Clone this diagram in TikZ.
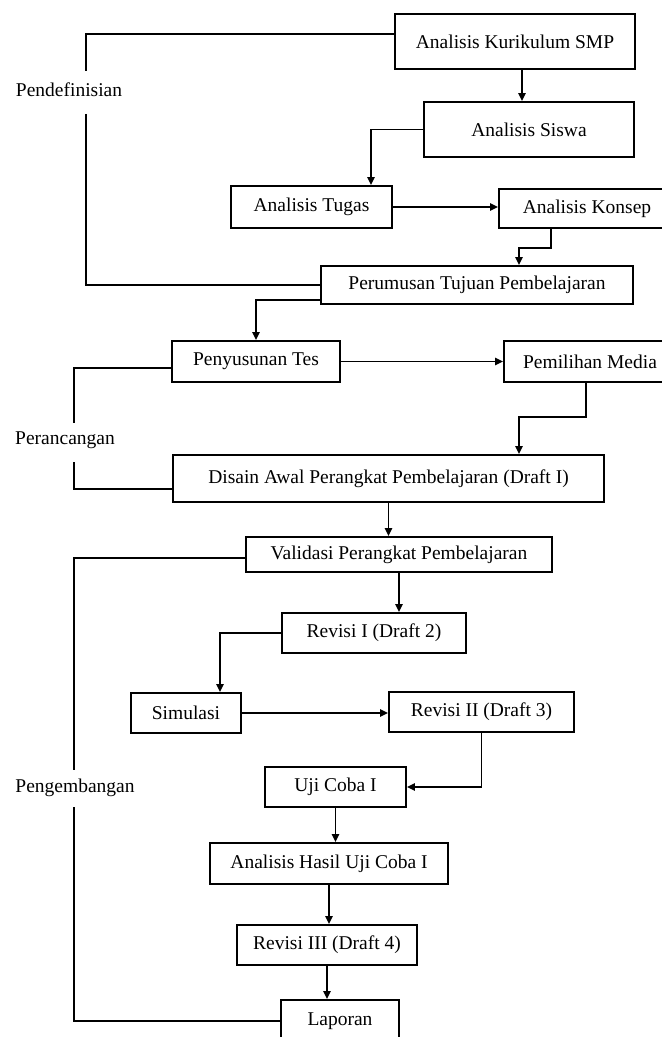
\documentclass[tikz,border=0pt]{standalone}
\usepackage{fontspec}
\setmainfont{Liberation Serif}
\usepackage{tikz}
\usetikzlibrary{calc}
\usetikzlibrary{positioning}
\usetikzlibrary{arrows.meta}

\begin{document}
\begin{tikzpicture}[x=0.5pt, y=-0.5pt, line width=0.9pt,
		box/.style={draw, inner sep=0pt, font=\fontsize{9.75}{11.7}\selectfont},
		lbl/.style={inner sep=0pt, font=\fontsize{9.75}{11.7}\selectfont},
		arr/.style={-{Triangle[length=4pt, width=3.6pt]}}]
		\useasboundingbox (0,0) rectangle (662,1037);
		\clip (0,0) rectangle (662,1037);

		\node[box, minimum width=120pt, minimum height=27.5pt] (KS) at (515,41.5) {Analisis Kurikulum SMP};
		\node[box, minimum width=105pt, minimum height=27.5pt] (AS) at (529,129.5) {Analisis Siswa};
		\node[box, minimum width=80.5pt, minimum height=21pt] (AT) at (311.5,207) {Analisis Tugas};
		\node[box, minimum width=88pt, minimum height=19.5pt] (AK) at (587,208.5) {Analisis Konsep};
		\node[box, minimum width=156pt, minimum height=19pt] (PT) at (477,285) {Perumusan Tujuan Pembelajaran};
		\node[box, minimum width=84pt, minimum height=20.5pt] (PS) at (256,361.5) {Penyusunan Tes};
		\node[box, minimum width=86pt, minimum height=20.5pt] (PM) at (590,361.5) {Pemilihan Media};
		\node[box, minimum width=215.5pt, minimum height=23.5pt] (DA) at (388.5,478.5) {Disain Awal Perangkat Pembelajaran (Draft I)};
		\node[box, minimum width=153pt, minimum height=17.5pt] (VP) at (399,554.5) {Validasi Perangkat Pembelajaran};
		\node[box, minimum width=92pt, minimum height=20pt] (R1) at (374,633) {Revisi I (Draft 2)};
		\node[box, minimum width=55pt, minimum height=20pt] (SM) at (186,713) {Simulasi};
		\node[box, minimum width=92.5pt, minimum height=20pt] (R2) at (481.5,712) {Revisi II (Draft 3)};
		\node[box, minimum width=70.5pt, minimum height=20pt] (UC) at (335.5,787) {Uji Coba I};
		\node[box, minimum width=119pt, minimum height=20.5pt] (AH) at (329,863.5) {Analisis Hasil Uji Coba I};
		\node[box, minimum width=90pt, minimum height=20pt] (R3) at (327,945) {Revisi III (Draft 4)};
		\node[box, minimum width=59pt, minimum height=21pt] (LP) at (340,1021) {Laporan};

		\node[lbl] (DF) at (69,90) {Pendefinisian};
		\node[lbl] (RC) at (65,440) {Perancangan};
		\node[lbl] (KG) at (75,788) {Pengembangan};

		\coordinate (DF1) at (86,71);
		\coordinate (DF2) at (86,114);
		\coordinate (RC1) at (74,423);
		\coordinate (RC2) at (74,462);
		\coordinate (KG1) at (74,770);
		\coordinate (KG2) at (74,807);

		\draw ($(KS.west)+(0,-7.5)$) -| (DF1);
		\draw (DF2) |- (PT.west);
		\draw ($(PS.west)+(0,6.5)$) -| (RC1);
		\draw (RC2) |- ($(DA.west)+(0,10.5)$);
		\draw ($(VP.west)+(0,3.5)$) -| (KG1);
		\draw (KG2) |- (LP.west);

		\draw[arr] ($(KS.south)+(7,0)$) -- ($(AS.north)+(-7,0)$);
		\draw[arr] (AS.west) -| ($(AT.north)+(59.5,0)$);
		\draw[arr] (AT.east) -- (AT.east -| AK.west);
		\draw[arr] ($(AK.south)+(-36,0)$) -- ++(0,19) -| ($(PT.north)+(42,0)$);
		\draw[arr] ($(PT.west)+(0,15)$) -| (PS.north);
		\draw[arr] (PS.east) -- (PM.west);
		\draw[arr] ($(PM.south)+(-4,0)$) -- ++(0,34) -| ($(DA.north)+(130.5,0)$);
		\draw[arr] (DA.south) -- (DA.south |- VP.north);
		\draw[arr] (VP.south) -- (VP.south |- R1.north);
		\draw[arr] (R1.west) -| ($(SM.north)+(34,0)$);
		\draw[arr] (SM.east) -- (SM.east -| R2.west);
		\draw[arr] (R2.south) |- (UC.east);
		\draw[arr] (UC.south) -- (UC.south |- AH.north);
		\draw[arr] (AH.south) -- (AH.south |- R3.north);
		\draw[arr] (R3.south) -- (R3.south |- LP.north);
\end{tikzpicture}
\end{document}
